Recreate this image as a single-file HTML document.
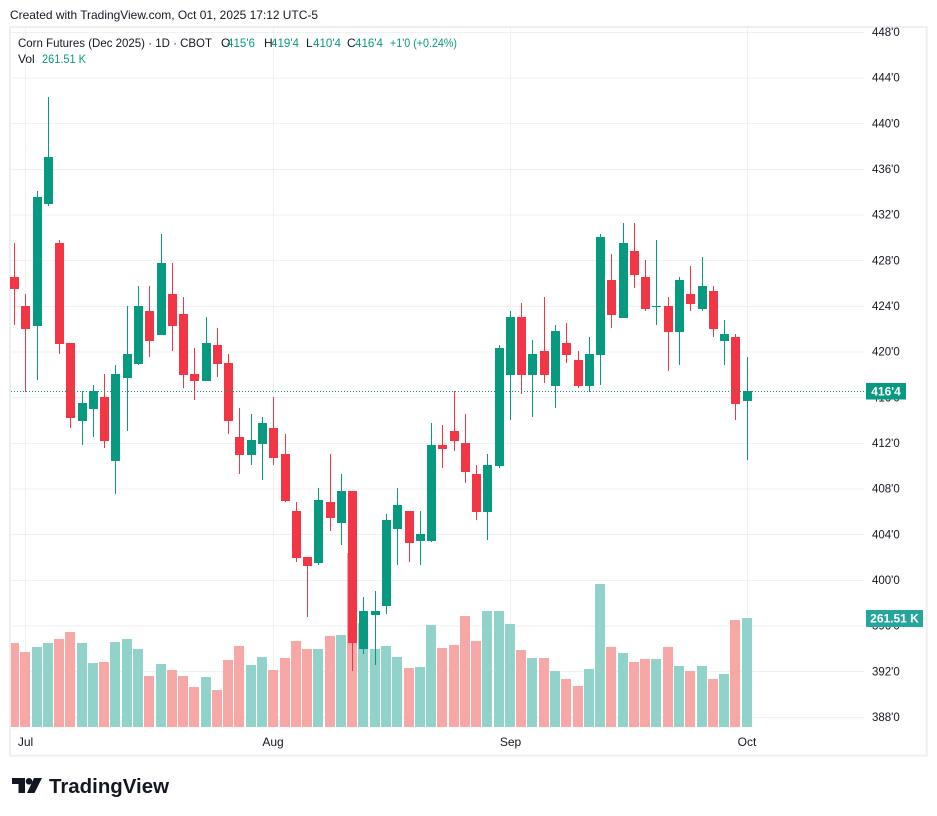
<!DOCTYPE html>
<html><head><meta charset="utf-8"><style>
html,body{margin:0;padding:0;background:#fff;}
svg{display:block;font-family:"Liberation Sans",sans-serif;}
</style></head><body>
<svg width="937" height="816" viewBox="0 0 937 816" xmlns="http://www.w3.org/2000/svg">
<rect x="0" y="0" width="937" height="816" fill="#fff"/>
<text x="10" y="19" font-size="12" fill="#131722" textLength="308" lengthAdjust="spacingAndGlyphs">Created with TradingView.com, Oct 01, 2025 17:12 UTC-5</text>
<rect x="10" y="27" width="916.7" height="728.7" fill="none" stroke="#efefef" stroke-width="2"/>
<g stroke="#f0f0f0" stroke-width="1">
<line x1="11" y1="32.5" x2="865" y2="32.5"/><line x1="11" y1="78" x2="865" y2="78"/><line x1="11" y1="123.5" x2="865" y2="123.5"/><line x1="11" y1="169.5" x2="865" y2="169.5"/><line x1="11" y1="215" x2="865" y2="215"/><line x1="11" y1="260.5" x2="865" y2="260.5"/><line x1="11" y1="306.5" x2="865" y2="306.5"/><line x1="11" y1="352" x2="865" y2="352"/><line x1="11" y1="397.5" x2="865" y2="397.5"/><line x1="11" y1="443.5" x2="865" y2="443.5"/><line x1="11" y1="489" x2="865" y2="489"/><line x1="11" y1="534.5" x2="865" y2="534.5"/><line x1="11" y1="580.5" x2="865" y2="580.5"/><line x1="11" y1="626" x2="865" y2="626"/><line x1="11" y1="671.5" x2="865" y2="671.5"/><line x1="11" y1="717.5" x2="865" y2="717.5"/>
<line x1="25.5" y1="28" x2="25.5" y2="728"/><line x1="273.5" y1="28" x2="273.5" y2="728"/><line x1="510.5" y1="28" x2="510.5" y2="728"/><line x1="747.5" y1="28" x2="747.5" y2="728"/>
</g>
<g fill="#f7a7a6">
<rect x="11" y="643" width="8" height="84"/><rect x="20" y="652" width="10" height="75"/><rect x="54" y="639" width="10" height="88"/><rect x="65" y="632" width="10" height="95"/><rect x="99" y="662" width="10" height="65"/><rect x="144" y="676" width="10" height="51"/><rect x="167" y="670" width="10" height="57"/><rect x="178" y="676" width="10" height="51"/><rect x="189" y="687" width="10" height="40"/><rect x="212" y="690" width="10" height="37"/><rect x="223" y="660" width="10" height="67"/><rect x="234" y="646" width="10" height="81"/><rect x="268" y="670" width="10" height="57"/><rect x="280" y="658" width="10" height="69"/><rect x="291" y="641" width="10" height="86"/><rect x="302" y="649" width="10" height="78"/><rect x="325" y="636" width="10" height="91"/><rect x="347" y="553" width="10" height="174"/><rect x="404" y="668" width="10" height="59"/><rect x="437" y="648" width="10" height="79"/><rect x="449" y="645" width="10" height="82"/><rect x="460" y="616" width="10" height="111"/><rect x="471" y="641" width="10" height="86"/><rect x="516" y="650" width="10" height="77"/><rect x="539" y="658" width="10" height="69"/><rect x="561" y="679" width="10" height="48"/><rect x="573" y="686" width="10" height="41"/><rect x="606" y="647" width="10" height="80"/><rect x="629" y="662" width="10" height="65"/><rect x="640" y="659" width="10" height="68"/><rect x="663" y="647" width="10" height="80"/><rect x="685" y="671" width="10" height="56"/><rect x="708" y="679" width="10" height="48"/><rect x="730" y="620" width="10" height="107"/>
</g>
<g fill="#91d3cb">
<rect x="32" y="647" width="10" height="80"/><rect x="43" y="643" width="10" height="84"/><rect x="77" y="643" width="10" height="84"/><rect x="88" y="663" width="10" height="64"/><rect x="110" y="642" width="10" height="85"/><rect x="122" y="639" width="10" height="88"/><rect x="133" y="649" width="10" height="78"/><rect x="156" y="664" width="10" height="63"/><rect x="201" y="677" width="10" height="50"/><rect x="246" y="665" width="10" height="62"/><rect x="257" y="657" width="10" height="70"/><rect x="313" y="649" width="10" height="78"/><rect x="336" y="635" width="10" height="92"/><rect x="358" y="623" width="10" height="104"/><rect x="370" y="649" width="10" height="78"/><rect x="381" y="646" width="10" height="81"/><rect x="392" y="657" width="10" height="70"/><rect x="415" y="667" width="10" height="60"/><rect x="426" y="625" width="10" height="102"/><rect x="482" y="611" width="10" height="116"/><rect x="494" y="611" width="10" height="116"/><rect x="505" y="624" width="10" height="103"/><rect x="527" y="658" width="10" height="69"/><rect x="550" y="671" width="10" height="56"/><rect x="584" y="669" width="10" height="58"/><rect x="595" y="584" width="10" height="143"/><rect x="618" y="653" width="10" height="74"/><rect x="651" y="659" width="10" height="68"/><rect x="674" y="666" width="10" height="61"/><rect x="697" y="666" width="10" height="61"/><rect x="719" y="674" width="10" height="53"/><rect x="742" y="618" width="10" height="109"/>
</g>
<g fill="#f23645">
<rect x="14" y="243" width="1" height="82"/><rect x="10" y="277" width="9" height="12"/>
<rect x="25" y="294" width="1" height="98"/><rect x="21" y="306" width="9" height="23"/>
<rect x="59" y="240" width="1" height="114"/><rect x="55" y="243" width="9" height="101"/>
<rect x="70" y="343" width="1" height="85"/><rect x="66" y="343" width="9" height="75"/>
<rect x="104" y="374" width="1" height="74"/><rect x="100" y="397" width="9" height="44"/>
<rect x="149" y="286" width="1" height="71"/><rect x="145" y="311" width="9" height="30"/>
<rect x="172" y="263" width="1" height="88"/><rect x="168" y="294" width="9" height="32"/>
<rect x="183" y="297" width="1" height="91"/><rect x="179" y="314" width="9" height="61"/>
<rect x="194" y="348" width="1" height="52"/><rect x="190" y="374" width="9" height="7"/>
<rect x="217" y="328" width="1" height="49"/><rect x="213" y="345" width="9" height="19"/>
<rect x="228" y="354" width="1" height="80"/><rect x="224" y="363" width="9" height="58"/>
<rect x="239" y="408" width="1" height="66"/><rect x="235" y="437" width="9" height="18"/>
<rect x="273" y="397" width="1" height="68"/><rect x="269" y="428" width="9" height="30"/>
<rect x="285" y="434" width="1" height="68"/><rect x="281" y="454" width="9" height="47"/>
<rect x="296" y="502" width="1" height="60"/><rect x="292" y="511" width="9" height="47"/>
<rect x="307" y="557" width="1" height="60"/><rect x="303" y="557" width="9" height="9"/>
<rect x="330" y="454" width="1" height="77"/><rect x="326" y="502" width="9" height="16"/>
<rect x="352" y="491" width="1" height="180"/><rect x="348" y="491" width="9" height="152"/>
<rect x="409" y="511" width="1" height="51"/><rect x="405" y="511" width="9" height="32"/>
<rect x="442" y="425" width="1" height="43"/><rect x="438" y="445" width="9" height="4"/>
<rect x="454" y="391" width="1" height="60"/><rect x="450" y="431" width="9" height="10"/>
<rect x="465" y="414" width="1" height="69"/><rect x="461" y="443" width="9" height="29"/>
<rect x="476" y="465" width="1" height="55"/><rect x="472" y="474" width="9" height="38"/>
<rect x="521" y="303" width="1" height="91"/><rect x="517" y="317" width="9" height="58"/>
<rect x="544" y="297" width="1" height="86"/><rect x="540" y="351" width="9" height="24"/>
<rect x="566" y="323" width="1" height="40"/><rect x="562" y="343" width="9" height="12"/>
<rect x="578" y="351" width="1" height="37"/><rect x="574" y="360" width="9" height="26"/>
<rect x="611" y="254" width="1" height="74"/><rect x="607" y="280" width="9" height="35"/>
<rect x="634" y="223" width="1" height="65"/><rect x="630" y="251" width="9" height="24"/>
<rect x="645" y="260" width="1" height="51"/><rect x="641" y="277" width="9" height="32"/>
<rect x="668" y="297" width="1" height="74"/><rect x="664" y="306" width="9" height="26"/>
<rect x="690" y="266" width="1" height="45"/><rect x="686" y="294" width="9" height="10"/>
<rect x="713" y="286" width="1" height="51"/><rect x="709" y="291" width="9" height="38"/>
<rect x="735" y="334" width="1" height="86"/><rect x="731" y="337" width="9" height="67"/>
</g>
<g fill="#089981">
<rect x="37" y="191" width="1" height="189"/><rect x="33" y="197" width="9" height="129"/>
<rect x="48" y="97" width="1" height="109"/><rect x="44" y="157" width="9" height="47"/>
<rect x="82" y="391" width="1" height="54"/><rect x="78" y="403" width="9" height="18"/>
<rect x="93" y="385" width="1" height="52"/><rect x="89" y="391" width="9" height="18"/>
<rect x="115" y="365" width="1" height="129"/><rect x="111" y="374" width="9" height="87"/>
<rect x="127" y="306" width="1" height="125"/><rect x="123" y="354" width="9" height="24"/>
<rect x="138" y="286" width="1" height="79"/><rect x="134" y="306" width="9" height="58"/>
<rect x="161" y="234" width="1" height="101"/><rect x="157" y="263" width="9" height="72"/>
<rect x="206" y="317" width="1" height="64"/><rect x="202" y="343" width="9" height="38"/>
<rect x="251" y="414" width="1" height="51"/><rect x="247" y="440" width="9" height="15"/>
<rect x="262" y="417" width="1" height="63"/><rect x="258" y="423" width="9" height="21"/>
<rect x="318" y="488" width="1" height="77"/><rect x="314" y="500" width="9" height="63"/>
<rect x="341" y="474" width="1" height="71"/><rect x="337" y="491" width="9" height="32"/>
<rect x="363" y="597" width="1" height="57"/><rect x="359" y="611" width="9" height="38"/>
<rect x="375" y="591" width="1" height="74"/><rect x="371" y="611" width="9" height="4"/>
<rect x="386" y="514" width="1" height="100"/><rect x="382" y="520" width="9" height="86"/>
<rect x="397" y="488" width="1" height="77"/><rect x="393" y="505" width="9" height="24"/>
<rect x="420" y="511" width="1" height="54"/><rect x="416" y="534" width="9" height="7"/>
<rect x="431" y="423" width="1" height="119"/><rect x="427" y="445" width="9" height="96"/>
<rect x="487" y="454" width="1" height="86"/><rect x="483" y="465" width="9" height="47"/>
<rect x="499" y="345" width="1" height="123"/><rect x="495" y="348" width="9" height="118"/>
<rect x="510" y="311" width="1" height="109"/><rect x="506" y="317" width="9" height="58"/>
<rect x="532" y="340" width="1" height="77"/><rect x="528" y="354" width="9" height="21"/>
<rect x="555" y="325" width="1" height="83"/><rect x="551" y="331" width="9" height="55"/>
<rect x="589" y="337" width="1" height="55"/><rect x="585" y="354" width="9" height="32"/>
<rect x="600" y="234" width="1" height="151"/><rect x="596" y="237" width="9" height="118"/>
<rect x="623" y="223" width="1" height="95"/><rect x="619" y="243" width="9" height="75"/>
<rect x="656" y="240" width="1" height="85"/><rect x="652" y="306" width="9" height="1"/>
<rect x="679" y="277" width="1" height="88"/><rect x="675" y="280" width="9" height="52"/>
<rect x="702" y="257" width="1" height="54"/><rect x="698" y="286" width="9" height="23"/>
<rect x="724" y="320" width="1" height="45"/><rect x="720" y="334" width="9" height="7"/>
<rect x="747" y="357" width="1" height="103"/><rect x="743" y="391" width="9" height="10"/>
</g>
<line x1="11" y1="391.5" x2="865" y2="391.5" stroke="#089981" stroke-width="1" stroke-dasharray="1 2"/>
<g font-size="11.5" fill="#131722">
<text x="872" y="36">448'0</text><text x="872" y="81.7">444'0</text><text x="872" y="127.3">440'0</text><text x="872" y="173">436'0</text><text x="872" y="218.7">432'0</text><text x="872" y="264.3">428'0</text><text x="872" y="310">424'0</text><text x="872" y="355.7">420'0</text><text x="872" y="401.3">416'0</text><text x="872" y="447">412'0</text><text x="872" y="492.7">408'0</text><text x="872" y="538.3">404'0</text><text x="872" y="584">400'0</text><text x="872" y="629.7">396'0</text><text x="872" y="675.3">392'0</text><text x="872" y="721">388'0</text>
</g>
<rect x="866" y="383" width="40" height="16.5" fill="#089981"/>
<text x="886" y="395.5" font-size="12" font-weight="bold" fill="#fff" text-anchor="middle">416'4</text>
<rect x="866" y="610" width="57" height="17" fill="#26a69a"/>
<text x="894.5" y="622.5" font-size="12" font-weight="bold" fill="#fff" text-anchor="middle">261.51 K</text>
<g font-size="12" fill="#131722" text-anchor="middle">
<text x="25.5" y="746">Jul</text><text x="273" y="746">Aug</text><text x="510.5" y="746">Sep</text><text x="747" y="746">Oct</text>
</g>
<g font-size="12">
<text x="18" y="47" fill="#131722" textLength="194" lengthAdjust="spacingAndGlyphs">Corn Futures (Dec 2025) · 1D · CBOT</text>
<text x="221" y="47" fill="#131722">O</text><text x="227" y="47" fill="#089981" textLength="28" lengthAdjust="spacingAndGlyphs">415'6</text>
<text x="264" y="47" fill="#131722">H</text><text x="271" y="47" fill="#089981" textLength="28" lengthAdjust="spacingAndGlyphs">419'4</text>
<text x="306" y="47" fill="#131722">L</text><text x="313" y="47" fill="#089981" textLength="28" lengthAdjust="spacingAndGlyphs">410'4</text>
<text x="347" y="47" fill="#131722">C</text><text x="355" y="47" fill="#089981" textLength="28" lengthAdjust="spacingAndGlyphs">416'4</text>
<text x="390" y="47" fill="#089981" textLength="67" lengthAdjust="spacingAndGlyphs">+1'0 (+0.24%)</text>
<text x="18" y="63" fill="#131722">Vol</text>
<text x="42" y="63" fill="#089981" textLength="44" lengthAdjust="spacingAndGlyphs">261.51 K</text>
</g>
<g fill="#131722">
<rect x="12" y="778" width="13" height="6"/>
<rect x="18.5" y="778" width="6.5" height="15"/>
<circle cx="29" cy="781.3" r="3.3"/>
<polygon points="34,778 42,778 34.5,793 27,793"/>
</g>
<text x="49" y="793" font-size="20" font-weight="bold" fill="#131722" textLength="120" lengthAdjust="spacingAndGlyphs">TradingView</text>
</svg>
</body></html>
